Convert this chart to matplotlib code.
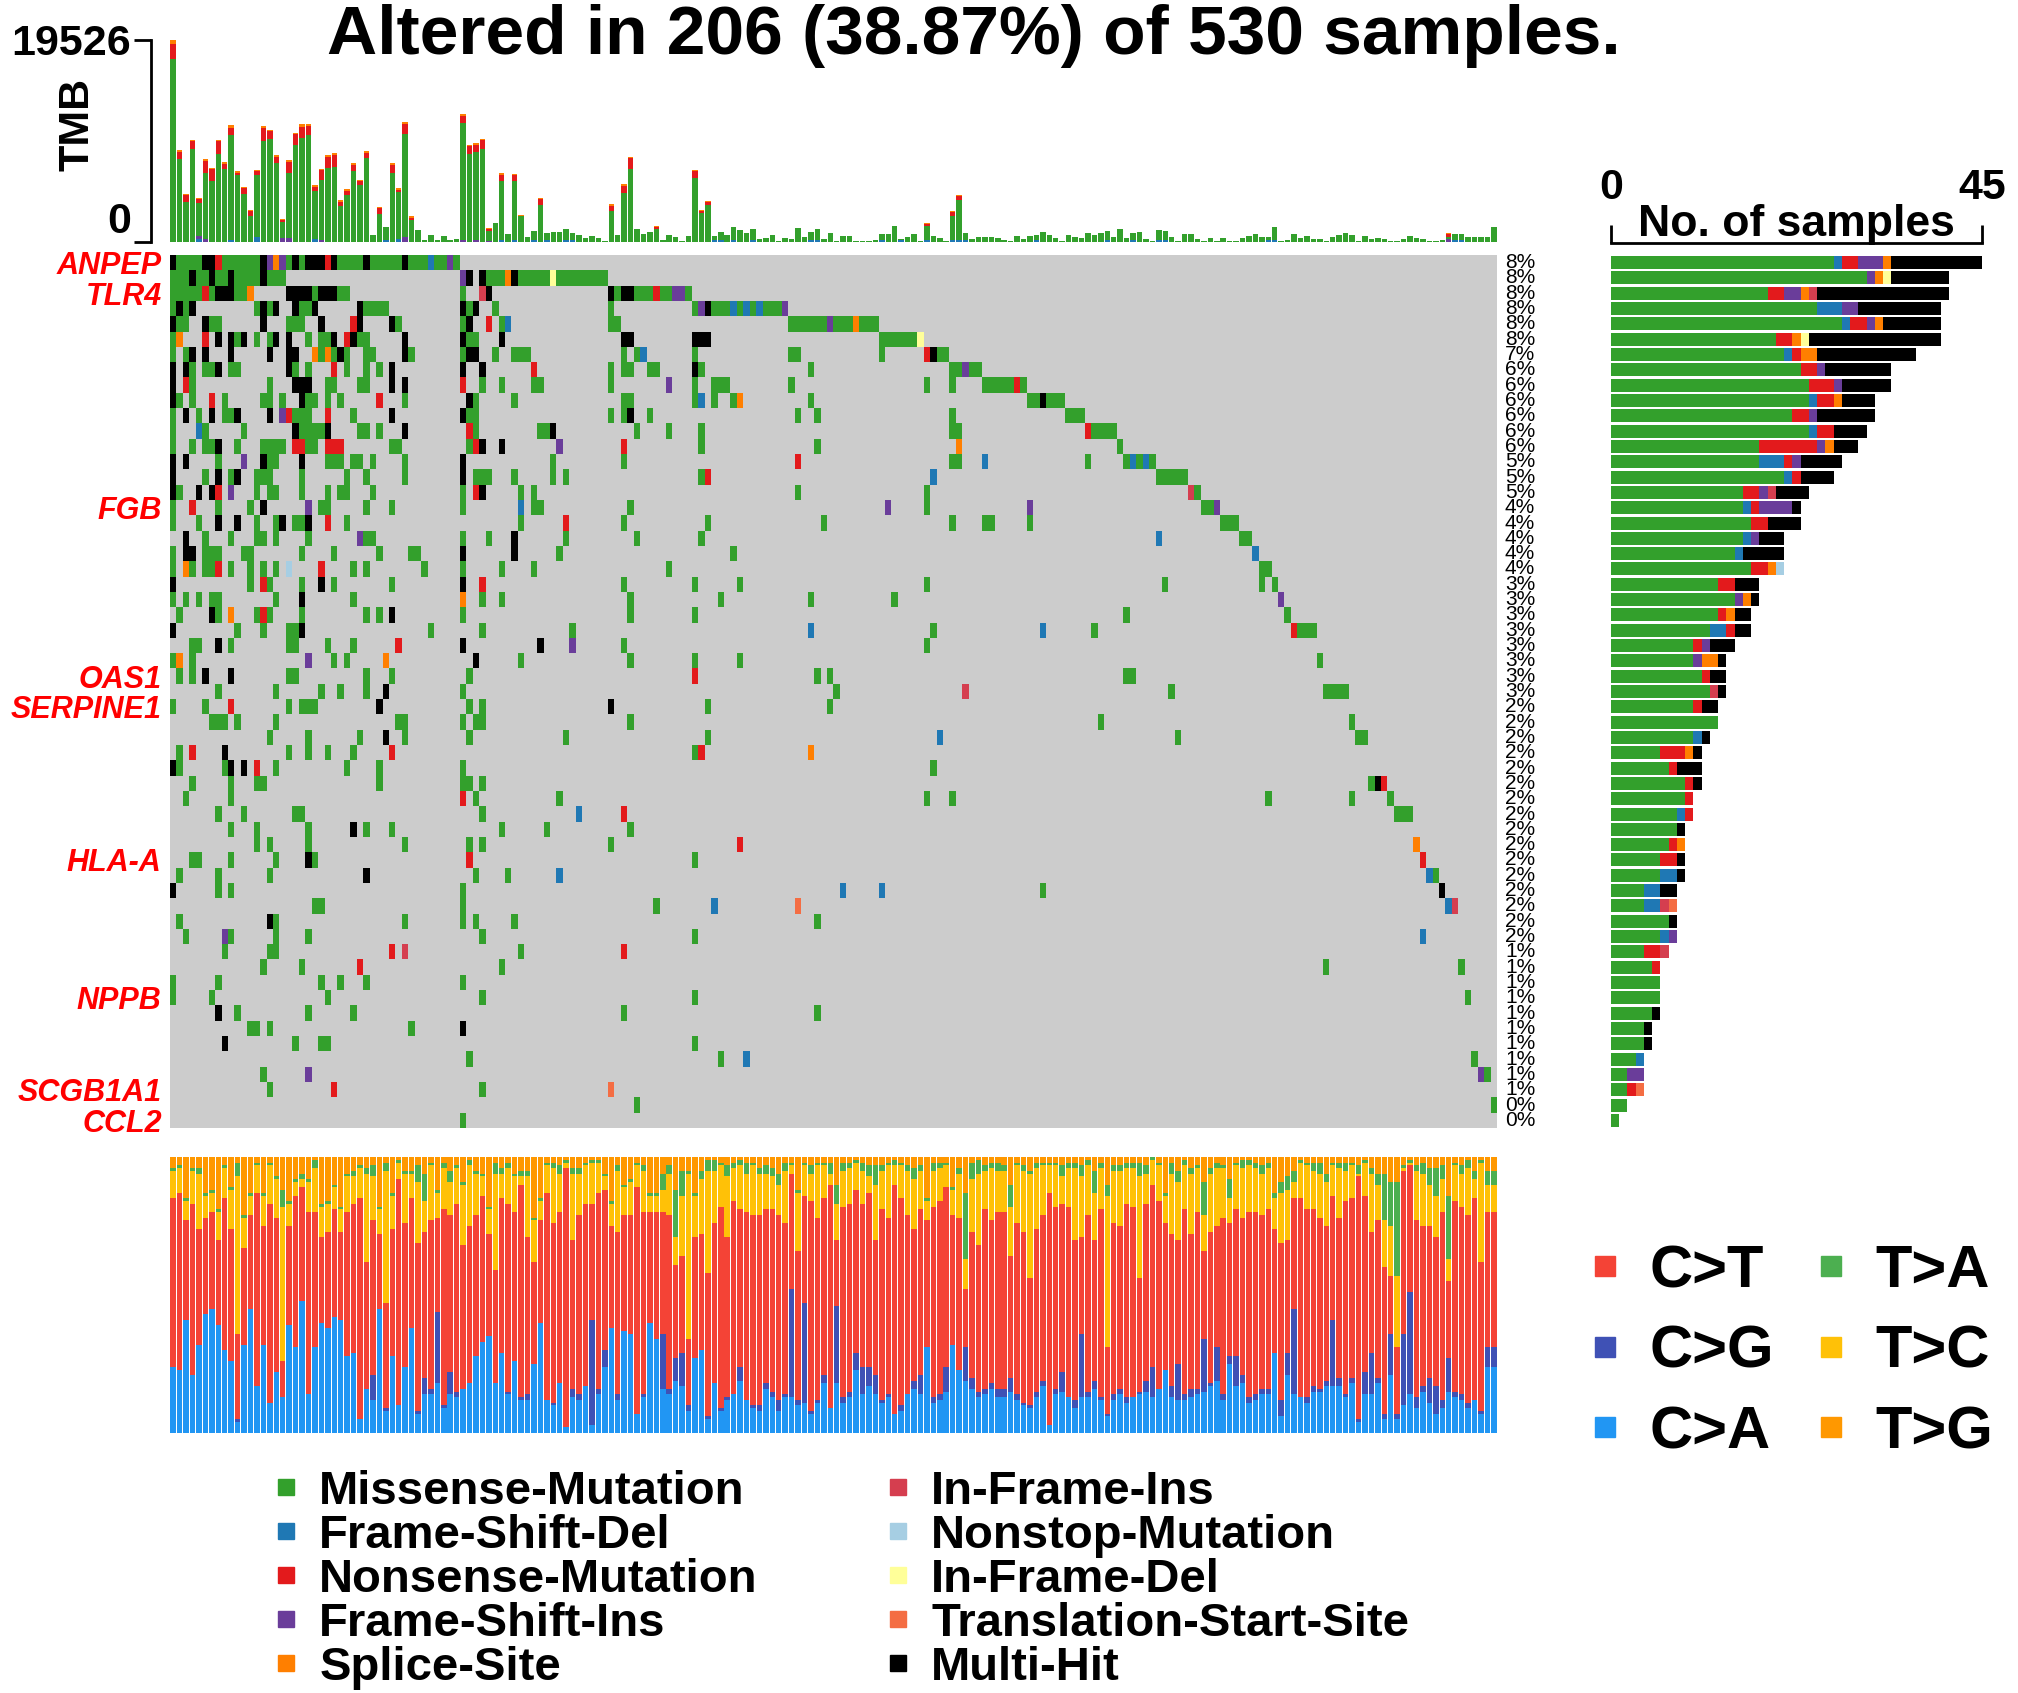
import numpy as np
import matplotlib
matplotlib.use("Agg")
import matplotlib.pyplot as plt
from matplotlib.colors import ListedColormap
from matplotlib.lines import Line2D
import matplotlib.transforms as mtransforms

plt.rcParams['font.family'] = ['Liberation Sans', 'DejaVu Sans']

W, H = 2018, 1693
n_cohort = 530
n_altered = 206

# variant classes (legend order) with their one-letter codes used in the matrix rows
var_names = ['Missense-Mutation', 'Frame-Shift-Del', 'Nonsense-Mutation', 'Frame-Shift-Ins', 'Splice-Site',
             'In-Frame-Ins', 'Nonstop-Mutation', 'In-Frame-Del', 'Translation-Start-Site', 'Multi-Hit']
var_codes = ['M', 'D', 'N', 'I', 'S', 'P', 'L', 'F', 'T', 'X']
var_colors = ['#33A02C', '#1F78B4', '#E31A1C', '#6A3D9A', '#FF7F00',
              '#D53E4F', '#A6CEE3', '#FFFF99', '#F46D43', '#000000']

# only some genes are named on the plot
gene_labels = {0: 'ANPEP', 2: 'TLR4', 16: 'FGB', 27: 'OAS1', 29: 'SERPINE1',
               39: 'HLA-A', 48: 'NPPB', 54: 'SCGB1A1', 56: 'CCL2'}

# oncoplot rows: "start-endCODE" tokens, sample columns 0..205
onco_rows = [
    "0X 1-4M 5-6X 7N 8-13M 14X 15I 16S 17I 18M 19X 20M 21-23X 24N 25X 26-29M 30X 31-35M 36X 37-39M 40D 41-42M 43I 44M",
    "0-2M 3X 4-5M 6X 7-8M 9X 10-13M 14X 15-17M 45I 46X 48X 49-51M 52S 53X 54-58M 59F 60-67M",
    "0-4M 5N 6M 7-9X 10-11M 12S 18-21X 22M 23-25X 26-27M 45M 48P 49X 68X 69M 70-71X 72-74M 75N 76-77M 78-79I 80M",
    "0M 1X 2M 3X 13M 14X 15M 16X 19X 20-21M 22X 29X 30-33M 45X 46M 47X 50M 68M 81M 82I 83X 84-86M 87D 88M 89D 90M 91D 92-94M 95I",
    "0X 1-2M 5X 6-7M 14X 18-20M 23X 28N 29X 34X 35M 45M 46X 49N 51M 52D 68-69M 96-101M 102I 103-105M 106S 107-109M",
    "0M 1S 5N 7X 9X 10M 11X 13M 15M 16X 18X 21M 23-24M 25X 27N 28X 29-30M 36X 45X 46-47M 51X 70-71X 81-83X 110-115M 116F",
    "0M 2M 3X 5X 9X 15X 18-19X 22S 23M 24S 25M 26X 27M 30-31M 36X 37M 45M 46-47X 50M 53-55M 70M 72M 73D 81M 96-97M 110M 117N 118X 119-120M",
    "0X 2X 3M 5-6M 7X 9-10M 18X 19M 21M 25N 27M 30M 32M 34X 45X 48X 56N 68M 70-71M 74-75M 81X 82M 99M 121-122M 123I 124-125M",
    "0X 2N 3M 15M 19-21X 24-25M 29-30M 34X 36X 45N 48M 51M 56-57M 68M 77I 81M 84-86M 96M 117M 121M 126-130M 131N 132M",
    "0X 1M 3M 6N 8M 14-15M 17M 20X 21-22M 24M 26M 32N 36M 46X 47M 53M 70-71M 81M 82D 84M 87M 88S 99M 133-134M 135X 136-138M",
    "0M 2X 4M 6X 8-9M 10X 15X 17I 18N 19-21M 24N 28M 34X 45X 46-47M 68M 70M 71X 74M 97M 100M 121M 139-141M",
    "0M 4D 5M 11M 19X 20-23M 24X 29-30M 32M 36X 46N 47M 57-58M 59X 72M 77M 82M 121-122M 142N 143-146M",
    "0M 3M 5-6M 7X 10M 14-17M 19-20N 21-22M 24-26N 34-35M 46M 47N 48X 51X 60I 70N 82M 100M 122S 147M",
    "0X 2X 7M 11I 14X 15-16M 20X 24-26M 28-29M 31M 36M 45X 59M 70M 97N 121-122M 126D 142M 148M 149D 150M 151D 152M",
    "0X 5M 7X 9M 10X 13-15M 20M 27M 30M 36M 45X 47-49M 53M 59M 61M 82M 83N 118D 153-157M",
    "0X 1M 4X 6X 7N 9I 13M 15-16M 20M 24M 26-27M 31M 45M 47N 48X 54M 56M 97M 117M 158P 159M",
    "0M 3N 7M 12M 14X 21I 23-24M 30M 34M 45M 54D 56-57M 71M 111I 117M 133I 160-161M 162I",
    "0M 4M 7X 10X 13M 16M 17X 19-20M 21X 24N 27M 54M 61N 70M 83M 101M 121M 126-127M 133M 163-165M",
    "2X 5M 9M 13-14M 16M 21M 29I 30-31M 45M 49M 53X 61M 72M 82M 153D 166-167M",
    "0M 2-3X 5-7M 11-12M 20M 25M 32M 37-38M 45X 53X 60M 87M 168D",
    "0M 2S 3M 5-6M 7N 9M 12M 14M 16M 18L 23N 28M 30M 39M 45M 51M 56M 77M 169-170M",
    "0X 12M 14N 15M 20M 23X 25M 34M 45X 48N 70M 81M 88M 117M 154M 169M 171M",
    "0M 2M 4M 6-7M 16M 20X 28M 45S 48M 51M 71M 85M 99M 112M 172I",
    "1M 6X 7M 9S 13M 14N 15M 20M 30M 32M 34X 45M 71M 81M 148M 173M",
    "0X 10M 14M 18-19M 20X 40M 48M 62M 99D 118M 135D 143M 174N 175-177M",
    "3-4M 7X 9M 18-19M 24M 28M 35N 45X 57X 62I 70M 117M",
    "0M 1S 3M 21I 25M 27M 33S 47X 54M 71M 81M 88M 178M",
    "1M 3M 5X 9X 18-19M 30M 34M 46M 81N 100M 102M 148-149M",
    "7M 16M 23M 26M 30M 33X 45M 103M 123P 155M 179-182M",
    "0M 5M 9N 18M 20-22M 32X 46M 48M 68X 83M 102M",
    "6-8M 10M 16M 35-36M 45M 47-48M 71M 144M 183M",
    "15M 21M 29M 33X 36M 46M 61M 83M 119D 156M 184-185M",
    "1M 3N 8X 18M 21M 24M 28M 34N 81M 82N 99S",
    "0X 1M 8M 9X 11X 13N 16M 27M 32M 45M 118M",
    "3M 9M 13-14M 32M 45-46M 48M 186M 187X 188N",
    "2M 9M 45N 47M 60M 117M 121M 170M 183M 189M",
    "7M 11M 19-20M 48M 63D 70N 190-192M",
    "9M 13M 21M 28X 30M 34M 51M 58M 71M",
    "13M 15M 21M 36M 46M 48M 68M 88N 193S",
    "3-4M 9M 16M 21X 22M 46N 81M 194N",
    "1M 7M 15M 30X 47M 52M 60D 195D 196M",
    "0X 7M 9M 45M 104D 110D 135M 197X",
    "22-23M 45M 75M 84D 97T 198D 199P",
    "1M 15X 16M 36M 45M 47M 53M 100M",
    "2M 8I 9M 16M 21M 48M 81M 194D",
    "8M 15-16M 34N 36P 54M 70N",
    "14M 20M 29N 51M 179M 200M",
    "0M 7M 23M 26M 30M 45M",
    "0M 6M 24M 48M 81M 201M",
    "7X 10M 21M 28M 70M 100M",
    "12-13M 15M 37M 45X",
    "8X 19M 23-24M 81M",
    "46M 85M 89D 202M",
    "14M 21I 203I 204M",
    "15M 25N 48M 68T",
    "72M 205M",
    "45M",
]

# side barplot: number of mutated samples per gene and class
side_missense = [27, 31, 19, 25, 28, 20, 21, 23, 24, 24, 22, 24, 18, 18, 21, 16, 16, 17, 16, 15,
                 17, 13, 15, 13, 12, 10, 10, 11, 12, 10, 13, 10, 6, 7, 9, 9, 8, 8, 7, 6,
                 6, 4, 4, 7, 6, 4, 5, 6, 6, 5, 4, 4, 3, 2, 2, 2, 1]
side_fs_del = [1, 0, 0, 3, 1, 0, 1, 0, 0, 1, 0, 1, 0, 3, 1, 0, 1, 0, 1, 1,
               0, 0, 0, 0, 2, 0, 0, 0, 0, 0, 0, 1, 0, 0, 0, 0, 1, 0, 0, 0,
               2, 2, 2, 0, 1, 0, 0, 0, 0, 0, 0, 0, 1, 0, 0, 0, 0]
side_nonsense = [2, 0, 2, 0, 2, 2, 1, 2, 3, 2, 2, 2, 7, 1, 1, 2, 1, 2, 0, 0,
                 2, 2, 0, 1, 1, 1, 0, 1, 0, 1, 0, 0, 3, 1, 1, 1, 1, 0, 1, 2,
                 0, 0, 0, 0, 0, 2, 1, 0, 0, 0, 0, 0, 0, 0, 1, 0, 0]
side_fs_ins = [3, 1, 2, 2, 1, 0, 0, 1, 1, 0, 1, 0, 1, 1, 0, 1, 4, 0, 1, 0,
               0, 0, 1, 0, 0, 1, 1, 0, 0, 0, 0, 0, 0, 0, 0, 0, 0, 0, 0, 0,
               0, 0, 0, 0, 1, 0, 0, 0, 0, 0, 0, 0, 0, 2, 0, 0, 0]
side_splice = [1, 1, 1, 0, 1, 1, 2, 0, 0, 1, 0, 0, 1, 0, 0, 0, 0, 0, 0, 0,
               1, 0, 1, 1, 0, 0, 2, 0, 0, 0, 0, 0, 1, 0, 0, 0, 0, 0, 1, 0,
               0, 0, 0, 0, 0, 0, 0, 0, 0, 0, 0, 0, 0, 0, 0, 0, 0]
side_if_ins = [0, 0, 1, 0, 0, 0, 0, 0, 0, 0, 0, 0, 0, 0, 0, 1, 0, 0, 0, 0,
               0, 0, 0, 0, 0, 0, 0, 0, 1, 0, 0, 0, 0, 0, 0, 0, 0, 0, 0, 0,
               0, 0, 1, 0, 0, 1, 0, 0, 0, 0, 0, 0, 0, 0, 0, 0, 0]
side_nonstop = [0, 0, 0, 0, 0, 0, 0, 0, 0, 0, 0, 0, 0, 0, 0, 0, 0, 0, 0, 0,
                1, 0, 0, 0, 0, 0, 0, 0, 0, 0, 0, 0, 0, 0, 0, 0, 0, 0, 0, 0,
                0, 0, 0, 0, 0, 0, 0, 0, 0, 0, 0, 0, 0, 0, 0, 0, 0]
side_if_del = [0, 1, 0, 0, 0, 1, 0, 0, 0, 0, 0, 0, 0, 0, 0, 0, 0, 0, 0, 0,
               0, 0, 0, 0, 0, 0, 0, 0, 0, 0, 0, 0, 0, 0, 0, 0, 0, 0, 0, 0,
               0, 0, 0, 0, 0, 0, 0, 0, 0, 0, 0, 0, 0, 0, 0, 0, 0]
side_tss = [0, 0, 0, 0, 0, 0, 0, 0, 0, 0, 0, 0, 0, 0, 0, 0, 0, 0, 0, 0,
            0, 0, 0, 0, 0, 0, 0, 0, 0, 0, 0, 0, 0, 0, 0, 0, 0, 0, 0, 0,
            0, 0, 1, 0, 0, 0, 0, 0, 0, 0, 0, 0, 0, 0, 1, 0, 0]
side_multi = [11, 7, 16, 10, 7, 16, 12, 8, 6, 4, 7, 4, 3, 5, 4, 4, 1, 4, 3, 5,
              0, 3, 1, 2, 2, 3, 1, 2, 1, 2, 0, 1, 1, 3, 1, 0, 0, 1, 0, 1,
              1, 2, 0, 1, 0, 0, 0, 0, 0, 1, 1, 1, 0, 0, 0, 0, 0]

# TMB per sample (total variants), with nonsense / splice shares on top
tmb_total = [19526, 8910, 4620, 9900, 4290, 7990, 7190, 9900, 7760, 11290,
             6830, 5350, 3140, 7000, 11190, 10860, 8420, 2210, 7920, 10530,
             11390, 11450, 5510, 7100, 8420, 8580, 4060, 5120, 7660, 6040,
             8840, 660, 3370, 1490, 7590, 5180, 11620, 2480, 1160, 170,
             630, 170, 560, 170, 330, 12380, 9410, 9570, 10000, 1320,
             1820, 6670, 760, 6600, 2640, 500, 1090, 4290, 830, 990,
             990, 1250, 830, 660, 430, 590, 430, 50, 3630, 630,
             5610, 8250, 1220, 760, 960, 1550, 170, 690, 500, 100,
             560, 7000, 3140, 3960, 590, 990, 660, 1490, 1160, 890,
             1250, 330, 400, 660, 60, 400, 330, 1320, 500, 990,
             1250, 330, 890, 60, 590, 590, 60, 60, 60, 230,
             730, 730, 1550, 330, 500, 730, 60, 1880, 560, 400,
             60, 3040, 4520, 830, 330, 500, 500, 500, 400, 230,
             60, 590, 330, 590, 660, 990, 660, 430, 60, 660,
             500, 400, 890, 660, 830, 1060, 500, 1250, 400, 830,
             960, 330, 60, 1160, 1090, 500, 60, 760, 760, 330,
             60, 430, 60, 430, 60, 60, 400, 590, 760, 500,
             500, 1490, 60, 230, 730, 400, 560, 330, 330, 60,
             500, 660, 830, 660, 60, 590, 330, 430, 260, 60,
             60, 330, 590, 400, 330, 60, 60, 230, 830, 730,
             730, 500, 500, 500, 500, 1490]
tmb_nonsense = ([1420, 660, 630, 730, 330, 1120, 1090, 1220, 400, 730,
                 260, 560, 500, 430, 1250, 730, 590, 170, 1060, 990,
                 1120, 890, 400, 890, 1060, 1160, 430, 400, 590, 330,
                 500, 0, 500, 0, 730, 260, 990, 230, 0, 0,
                 0, 0, 0, 0, 0, 690, 760, 730, 860, 130,
                 0, 560, 0, 560, 70, 0, 0, 590, 0, 0,
                 0, 0, 0, 0, 0, 0, 0, 0, 500, 0,
                 730, 1060, 0, 0, 0, 230, 0, 0, 0, 0,
                 0, 690, 260, 260] + [0] * 33 + [260, 0, 0, 0, 400, 330] + [0] * 75
                + [260] + [0] * 7)
tmb_splice = ([430, 230, 100, 170, 170, 170, 170, 170, 260, 230,
               130, 170, 100, 130, 130, 130, 170, 130, 170, 130,
               260, 230, 170, 170, 170, 170, 170, 170, 230, 170,
               200, 0, 130, 0, 170, 130, 230, 170, 0, 0,
               0, 0, 0, 0, 0, 230, 170, 170, 170, 100,
               0, 170, 0, 170, 100, 0, 0, 170, 0, 0,
               0, 0, 0, 0, 0, 0, 0, 0, 170, 0,
               170, 170, 0, 0, 0, 70, 0, 0, 0, 0,
               0, 130, 100, 100] + [0] * 33 + [100, 0, 0, 0, 100, 100] + [0] * 75
              + [100] + [0] * 7)
tmb_fs_del = {4: 250, 9: 200, 13: 450, 22: 300, 33: 200, 35: 250, 51: 200, 53: 200, 56: 150,
              58: 150, 61: 150, 62: 150, 84: 150, 85: 200, 87: 150, 90: 150, 99: 150, 100: 150,
              110: 150, 113: 150, 117: 150, 121: 150, 122: 200, 123: 150, 134: 150, 145: 150,
              149: 150, 153: 150, 154: 150, 170: 150, 171: 150, 199: 150, 200: 150}
tmb_fs_ins = {4: 300, 5: 250, 17: 400, 18: 350, 23: 200, 36: 450, 45: 150, 47: 150, 49: 100, 198: 250}

# Ti/Tv fractions per sample (percent)
titv_ca = [24, 23, 41, 21, 32, 43, 45, 39, 30, 26, 4, 32, 45, 17, 32, 11, 22, 13, 39, 31,
           48, 14, 31, 40, 38, 42, 41, 28, 29, 5, 16, 12, 45, 8, 28, 10, 24, 38, 7, 14,
           14, 18, 9, 14, 13, 16, 18, 28, 33, 35, 18, 29, 14, 26, 12, 12, 25, 40, 12, 10,
           18, 2, 13, 12, 17, 3, 14, 24, 38, 12, 37, 36, 7, 13, 40, 34, 16, 14, 19, 17,
           8, 27, 30, 5, 18, 8, 12, 14, 19, 12, 9, 8, 16, 13, 8, 13, 13, 10, 11, 7,
           11, 18, 9, 18, 11, 13, 23, 14, 17, 14, 11, 13, 7, 8, 14, 16, 14, 31, 11, 12,
           15, 32, 23, 19, 16, 13, 14, 16, 13, 13, 15, 12, 10, 9, 13, 17, 3, 14, 15, 13,
           9, 13, 13, 16, 12, 6, 12, 14, 11, 13, 14, 15, 13, 16, 23, 13, 12, 12, 13, 14,
           15, 17, 19, 12, 25, 17, 18, 11, 12, 14, 14, 29, 6, 21, 14, 13, 11, 15, 15, 17,
           17, 17, 13, 18, 4, 14, 14, 18, 5, 21, 5, 10, 14, 9, 15, 11, 7, 9, 15, 13,
           12, 9, 12, 7, 24, 24]
titv_cg = [0, 0, 0, 0, 0, 0, 0, 0, 0, 0, 1, 0, 0, 0, 0, 0, 0, 0, 0, 0,
           0, 0, 0, 0, 0, 0, 0, 0, 0, 0, 0, 9, 0, 1, 0, 0, 0, 0, 1, 6,
           2, 26, 1, 8, 2, 0, 0, 0, 0, 0, 0, 0, 1, 0, 1, 2, 0, 0, 0, 1,
           0, 0, 3, 2, 0, 38, 2, 6, 0, 2, 0, 0, 0, 1, 0, 0, 20, 2, 8, 12,
           2, 0, 0, 1, 0, 1, 1, 0, 5, 0, 1, 2, 2, 2, 4, 1, 39, 2, 36, 1,
           1, 3, 0, 28, 2, 2, 6, 10, 7, 7, 1, 1, 0, 2, 0, 3, 7, 0, 2, 2,
           9, 0, 0, 12, 4, 2, 2, 2, 3, 3, 5, 2, 1, 1, 2, 2, 0, 2, 7, 0,
           3, 23, 2, 3, 1, 1, 2, 2, 2, 0, 1, 4, 11, 0, 0, 4, 13, 2, 3, 2,
           19, 1, 12, 2, 3, 11, 3, 2, 2, 2, 2, 0, 6, 8, 31, 0, 2, 2, 1, 2,
           24, 3, 1, 2, 1, 8, 15, 2, 2, 15, 2, 26, 37, 4, 2, 9, 10, 3, 12, 2,
           2, 2, 0, 1, 7, 7]
titv_ct = [61, 64, 36, 62, 42, 35, 35, 31, 55, 48, 31, 35, 34, 70, 43, 72, 56, 13, 36, 55,
           41, 66, 49, 31, 35, 39, 32, 52, 54, 80, 46, 56, 27, 38, 46, 82, 52, 47, 61, 53,
           61, 34, 71, 57, 68, 52, 57, 51, 53, 37, 41, 56, 68, 54, 77, 57, 37, 37, 75, 65,
           62, 94, 54, 65, 66, 42, 71, 58, 37, 59, 42, 43, 82, 66, 40, 46, 44, 63, 34, 35,
           24, 44, 42, 52, 58, 73, 58, 70, 57, 68, 69, 69, 63, 66, 67, 62, 42, 54, 39, 76,
           66, 64, 81, 24, 69, 68, 59, 59, 63, 49, 69, 64, 83, 75, 65, 55, 60, 46, 69, 70,
           65, 47, 55, 21, 53, 53, 65, 59, 64, 64, 44, 62, 62, 46, 59, 60, 84, 66, 61, 69,
           58, 35, 64, 51, 68, 24, 62, 59, 70, 69, 41, 64, 66, 68, 53, 55, 45, 67, 56, 64,
           32, 55, 44, 64, 48, 53, 57, 67, 66, 63, 65, 45, 57, 41, 40, 72, 68, 64, 62, 56,
           45, 58, 70, 65, 88, 64, 44, 57, 53, 21, 24, 59, 46, 64, 58, 55, 54, 68, 28, 69,
           68, 68, 73, 54, 49, 49]
titv_tc = [10, 9, 7, 12, 20, 8, 7, 10, 11, 14, 57, 11, 7, 10, 11, 14, 14, 56, 8, 5,
           3, 11, 16, 11, 10, 8, 8, 13, 10, 11, 32, 16, 9, 48, 12, 6, 18, 9, 22, 11,
           20, 9, 15, 12, 13, 22, 22, 15, 7, 9, 35, 9, 13, 13, 3, 22, 15, 7, 10, 20,
           14, 2, 24, 15, 14, 15, 11, 5, 8, 22, 10, 12, 8, 15, 6, 6, 8, 15, 10, 22,
           60, 15, 20, 37, 19, 15, 22, 12, 16, 14, 18, 15, 13, 12, 11, 19, 3, 21, 11, 10,
           19, 12, 4, 13, 13, 13, 10, 12, 6, 20, 14, 19, 7, 12, 16, 18, 14, 7, 13, 12,
           8, 9, 16, 11, 19, 26, 14, 19, 15, 15, 18, 21, 22, 38, 22, 18, 10, 15, 10, 14,
           26, 22, 18, 17, 15, 55, 19, 20, 13, 14, 37, 11, 9, 13, 10, 22, 21, 16, 22, 16,
           13, 21, 21, 18, 9, 16, 18, 17, 16, 15, 15, 11, 18, 18, 6, 13, 16, 14, 16, 16,
           11, 18, 11, 12, 1, 12, 21, 13, 17, 18, 26, 1, 1, 18, 19, 15, 15, 12, 8, 13,
           12, 17, 7, 36, 10, 10]
titv_ta = [1, 1, 1, 1, 2, 1, 1, 1, 1, 1, 5, 1, 1, 1, 1, 1, 1, 6, 1, 1,
           2, 1, 3, 1, 1, 1, 1, 1, 2, 1, 2, 4, 1, 3, 1, 1, 1, 1, 6, 10,
           1, 1, 2, 4, 1, 1, 2, 1, 1, 1, 4, 2, 2, 1, 2, 2, 1, 1, 1, 2,
           3, 1, 2, 2, 1, 1, 1, 1, 1, 2, 1, 1, 1, 2, 1, 1, 6, 3, 17, 9,
           1, 1, 3, 4, 4, 1, 4, 2, 2, 4, 1, 2, 3, 3, 4, 3, 1, 1, 1, 3,
           1, 1, 4, 7, 3, 2, 1, 3, 4, 7, 2, 1, 2, 1, 2, 4, 2, 1, 3, 2,
           1, 1, 2, 24, 6, 5, 2, 2, 3, 2, 8, 1, 2, 1, 2, 1, 1, 1, 4, 2,
           2, 4, 2, 8, 2, 4, 2, 2, 2, 2, 5, 3, 1, 1, 1, 4, 4, 2, 2, 1,
           12, 2, 2, 1, 7, 1, 3, 2, 2, 3, 2, 2, 4, 5, 4, 1, 1, 3, 4, 3,
           1, 2, 3, 1, 3, 1, 2, 4, 17, 16, 34, 1, 1, 2, 4, 6, 10, 5, 23, 1,
           3, 3, 3, 1, 5, 5]
titv_tg = [4, 3, 15, 4, 4, 13, 12, 19, 3, 11, 2, 21, 13, 2, 13, 2, 7, 12, 16, 8,
           6, 8, 1, 17, 16, 10, 18, 6, 5, 3, 4, 3, 18, 2, 13, 1, 5, 5, 3, 6,
           2, 12, 2, 5, 3, 9, 1, 5, 6, 18, 2, 4, 2, 6, 5, 5, 22, 15, 2, 2,
           3, 1, 4, 4, 2, 1, 1, 6, 16, 3, 10, 8, 2, 3, 13, 13, 6, 3, 12, 5,
           5, 13, 5, 1, 1, 2, 3, 2, 1, 2, 2, 4, 3, 4, 6, 2, 2, 12, 2, 3,
           2, 2, 2, 10, 2, 2, 1, 2, 3, 3, 3, 2, 1, 2, 3, 4, 3, 15, 2, 2,
           2, 11, 4, 13, 2, 1, 3, 2, 2, 3, 10, 2, 3, 5, 2, 2, 2, 2, 3, 2,
           2, 3, 1, 5, 2, 10, 3, 3, 2, 2, 2, 3, 0, 2, 13, 2, 5, 1, 4, 3,
           9, 4, 2, 3, 8, 2, 1, 1, 2, 3, 2, 13, 9, 7, 5, 1, 2, 2, 2, 6,
           2, 2, 2, 2, 3, 1, 4, 6, 6, 9, 9, 3, 1, 3, 2, 4, 4, 3, 14, 2,
           3, 1, 5, 1, 5, 5]
titv_names = ['C>T', 'C>G', 'C>A', 'T>A', 'T>C', 'T>G']
titv_colors = {'C>T': '#F44336', 'C>G': '#3F51B5', 'C>A': '#2196F3',
               'T>A': '#4CAF50', 'T>C': '#FFC107', 'T>G': '#FF9800'}


def parse_row(spec):
    row = np.full(n_altered, -1)
    for tok in spec.split():
        code, span = tok[-1], tok[:-1]
        a, b = span.split('-') if '-' in span else (span, span)
        row[int(a):int(b) + 1] = var_codes.index(code)
    return row


def fig_axes(x0, y0, x1, y1):
    # pixel box of the reference -> figure fraction
    return fig.add_axes([x0 / W, 1 - y1 / H, (x1 - x0) / W, (y1 - y0) / H])


mat = np.array([parse_row(r) for r in onco_rows])
n_genes = mat.shape[0]
x = np.arange(n_altered)

fig = plt.figure(figsize=(W / 100, H / 100), dpi=100)
fig.patch.set_facecolor('white')

fig.text(974 / W, 1 - 36 / H, f"Altered in {n_altered} ({n_altered / n_cohort * 100:.2f}%) of {n_cohort} samples.",
         ha='center', va='center', fontsize=50, fontweight='bold')

# ---- TMB bars on top
ax_tmb = fig_axes(170, 40, 1497, 242)
fs_del = np.array([tmb_fs_del.get(i, 0) for i in x])
fs_ins = np.array([tmb_fs_ins.get(i, 0) for i in x])
nons = np.array(tmb_nonsense)
spl = np.array(tmb_splice)
miss = np.clip(np.array(tmb_total) - fs_del - fs_ins - nons - spl, 0, None)
bottom = np.zeros(n_altered)
for vals, col in [(fs_del, var_colors[1]), (fs_ins, var_colors[3]), (miss, var_colors[0]),
                  (nons, var_colors[2]), (spl, var_colors[4])]:
    ax_tmb.bar(x, vals, bottom=bottom, width=0.85, color=col, linewidth=0)
    bottom += vals
ax_tmb.set_xlim(-0.5, n_altered - 0.5)
ax_tmb.set_ylim(0, max(tmb_total))
for s in ['top', 'right', 'bottom']:
    ax_tmb.spines[s].set_visible(False)
ax_tmb.spines['left'].set_position(('outward', 14))
ax_tmb.spines['left'].set_linewidth(2)
ax_tmb.set_xticks([])
ax_tmb.set_yticks([0, max(tmb_total)])
ax_tmb.tick_params(axis='y', length=12, width=2, labelsize=31, pad=2)
for t in ax_tmb.get_yticklabels():
    t.set_fontweight('bold')
ax_tmb.get_yticklabels()[0].set_va('bottom')
ax_tmb.set_ylabel('TMB', fontsize=31, fontweight='bold')
ax_tmb.yaxis.set_label_coords(-0.055, 0.58)

# ---- oncoplot matrix
ax_mat = fig_axes(170, 255, 1497, 1128)
cmap = ListedColormap(['#CCCCCC'] + var_colors)
ax_mat.imshow(mat + 1, cmap=cmap, vmin=-0.5, vmax=len(var_colors) + 0.5,
              aspect='auto', interpolation='nearest')
for s in ax_mat.spines.values():
    s.set_visible(False)
ax_mat.set_xticks([])
ax_mat.set_yticks(list(gene_labels.keys()))
ax_mat.set_yticklabels(list(gene_labels.values()), fontsize=22, fontweight='bold',
                       fontstyle='italic', color='#FF0000')
ax_mat.tick_params(axis='y', length=0, pad=6)

side_stack = [side_missense, side_fs_del, side_nonsense, side_fs_ins, side_splice,
              side_if_ins, side_nonstop, side_if_del, side_tss, side_multi]
side_total = np.sum(np.array(side_stack), axis=0)
trans = mtransforms.blended_transform_factory(ax_mat.transAxes, ax_mat.transData)
for i, tot in enumerate(side_total):
    ax_mat.text(1.006, i, f"{int(round(tot / n_cohort * 100))}%", transform=trans,
                ha='left', va='center', fontsize=15)

# ---- side barplot
ax_side = fig_axes(1611, 255, 1982, 1128)
y = np.arange(n_genes)
left = np.zeros(n_genes)
for vals, col in zip(side_stack, var_colors):
    ax_side.barh(y, vals, left=left, height=0.85, color=col, linewidth=0)
    left += np.array(vals)
ax_side.set_ylim(n_genes - 0.5, -0.5)
ax_side.set_xlim(0, 45)
for s in ['bottom', 'right', 'left']:
    ax_side.spines[s].set_visible(False)
ax_side.spines['top'].set_position(('outward', 9))
ax_side.spines['top'].set_linewidth(2)
ax_side.xaxis.tick_top()
ax_side.set_xticks([0, 45])
ax_side.tick_params(axis='x', length=13, width=2, labelsize=31, pad=12)
for t in ax_side.get_xticklabels():
    t.set_fontweight('bold')
ax_side.set_yticks([])
ax_side.text(0.5, 1.035, 'No. of samples', transform=ax_side.transAxes, ha='center', va='center',
             fontsize=32, fontweight='bold')

# ---- Ti/Tv fractions
ax_titv = fig_axes(170, 1157, 1497, 1433)
titv_stack = [('C>A', titv_ca), ('C>G', titv_cg), ('C>T', titv_ct),
              ('T>C', titv_tc), ('T>A', titv_ta), ('T>G', titv_tg)]
tot = np.sum([np.array(v, dtype=float) for _, v in titv_stack], axis=0)
bottom = np.zeros(n_altered)
for name, vals in titv_stack:
    frac = np.array(vals) / tot
    ax_titv.bar(x, frac, bottom=bottom, width=0.85, color=titv_colors[name], linewidth=0)
    bottom += frac
ax_titv.set_xlim(-0.5, n_altered - 0.5)
ax_titv.set_ylim(0, 1)
ax_titv.axis('off')

# ---- legends
titv_handles = [Line2D([], [], marker='s', linestyle='', markersize=14, color=titv_colors[n]) for n in titv_names]
fig.legend(titv_handles, titv_names, ncol=2, loc='upper left', bbox_to_anchor=(1590 / W, 1 - 1244 / H),
           frameon=False, prop={'size': 43, 'weight': 'bold'}, handlelength=0.5, handletextpad=0.5,
           columnspacing=0.7, labelspacing=0.43, borderpad=0, borderaxespad=0)

var_handles = [Line2D([], [], marker='s', linestyle='', markersize=11, color=c) for c in var_colors]
fig.legend(var_handles, var_names, ncol=2, loc='upper left', bbox_to_anchor=(272 / W, 1 - 1470 / H),
           frameon=False, prop={'size': 34, 'weight': 'bold'}, handlelength=0.6, handletextpad=0.4,
           columnspacing=2.67, labelspacing=0.0, borderpad=0, borderaxespad=0)

fig.savefig('out.png', dpi=100, facecolor='white')
